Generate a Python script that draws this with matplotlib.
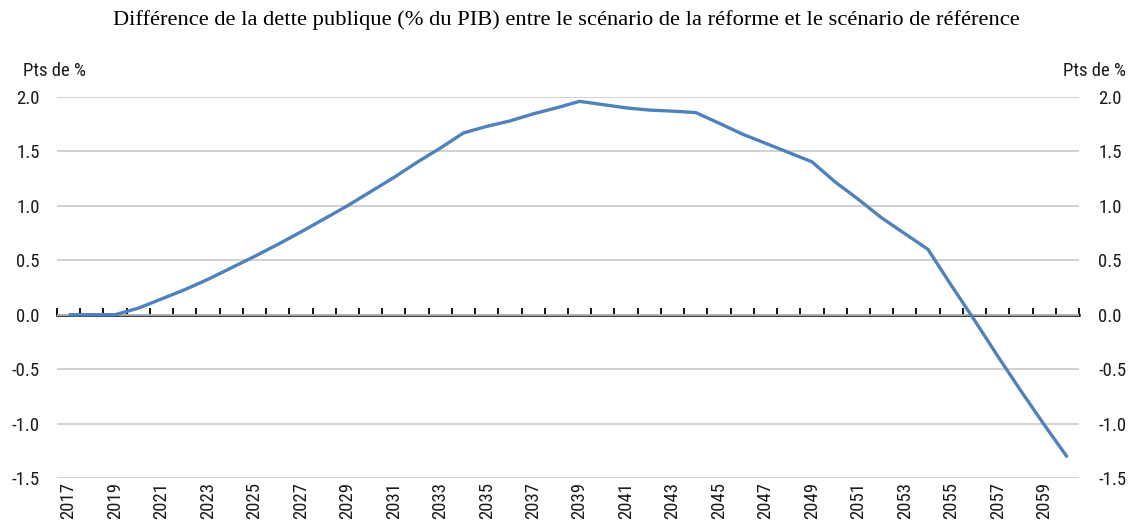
import matplotlib
matplotlib.use("Agg")
import matplotlib.pyplot as plt
from matplotlib import font_manager as fm
import numpy as np

years = list(range(2017, 2061))
values = [0.0, 0.0, 0.0, 0.06, 0.145, 0.23, 0.325, 0.43, 0.535, 0.645,
          0.76, 0.88, 1.0, 1.13, 1.26, 1.40, 1.53, 1.67, 1.73, 1.78,
          1.845, 1.90, 1.96, 1.93, 1.90, 1.88, 1.87, 1.857, 1.76, 1.66,
          1.575, 1.49, 1.405, 1.22, 1.06, 0.89, 0.745, 0.60, 0.27, -0.05,
          -0.38, -0.70, -1.01, -1.31]
tick_labels = [str(y) for y in years[::2]]
y_ticks = [-1.5, -1.0, -0.5, 0.0, 0.5, 1.0, 1.5, 2.0]
title = "Différence de la dette publique (% du PIB) entre le scénario de la réforme et le scénario de référence"
unit = "Pts de %"

names = {f.name for f in fm.fontManager.ttflist}
narrow = "Liberation Sans"
for cand in ["Liberation Sans Narrow", "Arial Narrow", "Roboto Condensed", "Archivo Narrow",
             "Open Sans Condensed", "Asap Condensed"]:
    if cand in names:
        narrow = cand
        break
serif = "Liberation Serif"
for cand in ["Times New Roman", "Liberation Serif"]:
    if cand in names:
        serif = cand
        break

fig = plt.figure(figsize=(11.32, 5.2), dpi=100)
ax = fig.add_axes([57/1132, 1-478/520, (1079-57)/1132, (478-97)/520])

x = np.arange(len(years))
ax.plot(x, values, color="#4F81BD", lw=2.4, solid_capstyle="butt", zorder=3)

ax.set_xlim(-0.5, len(years) - 0.5)
ax.set_ylim(-1.5, 2.0)
ax.set_yticks(y_ticks)
ax.set_yticklabels([f"{v:.1f}" for v in y_ticks])
ax.grid(axis="y", color="#C9C9C9", lw=1.2)
ax.set_axisbelow(True)
for s in ax.spines.values():
    s.set_visible(False)

ax.set_xticks(x[::2])
ax.set_xticklabels(tick_labels, rotation=90, fontfamily=narrow, fontsize=13.5, color="#1a1a1a")
ax.tick_params(axis="x", length=0, pad=3)
ax.tick_params(axis="y", length=0, pad=12.5, labelsize=13.5, labelcolor="#1a1a1a")
for lab in ax.get_yticklabels():
    lab.set_fontfamily(narrow)

# right axis labels
axr = ax.twinx()
axr.set_ylim(ax.get_ylim())
axr.set_yticks(y_ticks)
axr.set_yticklabels([f"{v:.1f}" for v in y_ticks])
axr.tick_params(axis="y", length=0, pad=14, labelsize=13.5, labelcolor="#1a1a1a")
for lab in axr.get_yticklabels():
    lab.set_fontfamily(narrow)
for s in axr.spines.values():
    s.set_visible(False)

# zero axis with category boundary ticks
zero_pos = (0 - (-1.5)) / 3.5
sec = ax.secondary_xaxis(zero_pos)
sec.set_xticks(np.arange(-0.5, len(years), 1.0))
sec.set_xticklabels([])
sec.tick_params(axis="x", direction="in", length=5, width=1.3, color="black")
sec.spines["bottom"].set_color("black")
sec.spines["bottom"].set_linewidth(1.8)

fig.text(0.5, 1-20/520, title, ha="center", va="center", fontfamily=serif, fontsize=16.2)
fig.text(23/1132, 1-71/520, unit, ha="left", va="center", fontfamily=narrow, fontsize=13.5, color="#1a1a1a")
fig.text(1126/1132, 1-71/520, unit, ha="right", va="center", fontfamily=narrow, fontsize=13.5, color="#1a1a1a")

fig.savefig("out.png", dpi=100)
